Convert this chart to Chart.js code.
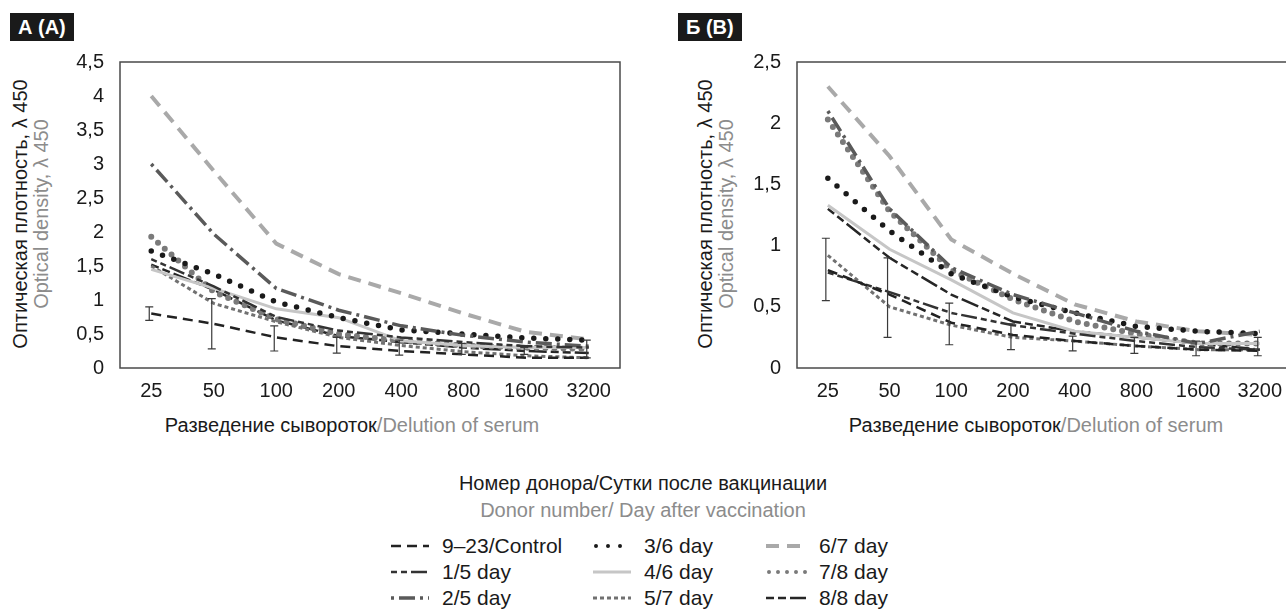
<!DOCTYPE html>
<html>
<head>
<meta charset="utf-8">
<script src="https://cdn.jsdelivr.net/npm/chart.js@4.4.1/dist/chart.umd.min.js"></script>
<style>
    body { margin: 0; width: 1286px; height: 610px; overflow: hidden; background: #fff; font-family: "Liberation Sans", Arial, sans-serif; position: relative; }
    .abs { position: absolute; }
    .tag { background: #1a1a1a; color: #fff; font-weight: bold; font-size: 20px; line-height: 28px; padding: 0 8px; }
    .ytitle { transform: translate(-50%, -50%) rotate(-90deg); white-space: nowrap; font-size: 20px; line-height: 21px; text-align: center; color: #1a1a1a; }
    .xtitle { transform: translate(-50%, -50%); white-space: nowrap; font-size: 20px; color: #1a1a1a; }
    .grey { color: #8c8c8c; }
    .legTitle { transform: translateX(-50%); white-space: nowrap; font-size: 20px; text-align: center; line-height: 27px; color: #1a1a1a; }
    .legItem { display: flex; align-items: center; font-size: 21px; color: #1a1a1a; white-space: nowrap; height: 26px; }
    .legItem svg { margin-right: 11px; }
</style>
</head>
<body>

<div class="abs tag" style="left:10px; top:13px;">А (A)</div>
<div class="abs tag" style="left:678px; top:13px;">Б (B)</div>

<div class="abs ytitle" style="left:31px; top:214px;">Оптическая плотность, λ 450<br><span class="grey">Optical density, λ 450</span></div>
<div class="abs ytitle" style="left:716px; top:214px;">Оптическая плотность, λ 450<br><span class="grey">Optical density, λ 450</span></div>

<div class="abs xtitle" style="left:352px; top:425px;">Разведение сывороток<span class="grey">/Delution of serum</span></div>
<div class="abs xtitle" style="left:1036px; top:425px;">Разведение сывороток<span class="grey">/Delution of serum</span></div>

<canvas id="chartA" class="abs" style="left:60px; top:34px;" width="580" height="386"></canvas>
<canvas id="chartB" class="abs" style="left:737px; top:34px;" width="556" height="386"></canvas>

<div class="abs legTitle" style="left:643px; top:470px;">Номер донора/Сутки после вакцинации<br><span class="grey">Donor number/ Day after vaccination</span></div>
<div id="legend" class="abs" style="left:0; top:0;"></div>

<script>
// dilution steps
const dilutions = ['25', '50', '100', '200', '400', '800', '1600', '3200'];

const seriesNames = ['9–23/Control', '1/5 day', '2/5 day', '3/6 day', '4/6 day', '5/7 day', '6/7 day', '7/8 day', '8/8 day'];

// panel A values
const controlA = [0.8, 0.65, 0.45, 0.32, 0.25, 0.2, 0.15, 0.15];
const d15A = [1.6, 1.2, 0.75, 0.55, 0.45, 0.38, 0.32, 0.3];
const d25A = [3.0, 1.97, 1.17, 0.85, 0.62, 0.48, 0.38, 0.32];
const d36A = [1.72, 1.38, 0.97, 0.74, 0.56, 0.5, 0.44, 0.41];
const d46A = [1.45, 1.17, 0.87, 0.74, 0.4, 0.33, 0.3, 0.3];
const d57A = [1.5, 0.95, 0.68, 0.45, 0.33, 0.24, 0.18, 0.15];
const d67A = [4.0, 2.9, 1.83, 1.38, 1.1, 0.8, 0.53, 0.42];
const d78A = [1.93, 1.12, 0.72, 0.5, 0.4, 0.33, 0.3, 0.28];
const d88A = [1.52, 1.15, 0.7, 0.47, 0.38, 0.3, 0.25, 0.22];
const errLowA = [0.7, 0.28, 0.25, 0.22, 0.19, 0.2, 0.2, 0.15];
const errHighA = [0.9, 1.02, 0.62, 0.45, 0.41, 0.36, 0.3, 0.41];

// panel B values
const controlB = [0.8, 0.6, 0.37, 0.27, 0.22, 0.18, 0.15, 0.14];
const d15B = [0.78, 0.62, 0.45, 0.35, 0.28, 0.22, 0.17, 0.15];
const d25B = [2.1, 1.3, 0.82, 0.6, 0.45, 0.3, 0.2, 0.3];
const d36B = [1.55, 1.12, 0.77, 0.58, 0.45, 0.34, 0.3, 0.28];
const d46B = [1.33, 0.97, 0.72, 0.45, 0.3, 0.25, 0.2, 0.2];
const d57B = [0.92, 0.5, 0.35, 0.25, 0.22, 0.18, 0.15, 0.15];
const d67B = [2.3, 1.73, 1.05, 0.77, 0.52, 0.38, 0.3, 0.27];
const d78B = [2.03, 1.28, 0.8, 0.56, 0.38, 0.28, 0.2, 0.2];
const d88B = [1.3, 0.9, 0.6, 0.38, 0.3, 0.25, 0.2, 0.15];
const errLowB = [0.55, 0.25, 0.19, 0.15, 0.14, 0.12, 0.1, 0.1];
const errHighB = [1.06, 0.9, 0.53, 0.36, 0.26, 0.25, 0.22, 0.25];

const yMaxA = 4.5;
const yMaxB = 2.5;

// line styles, same order as seriesNames
const styles = [
    { color: '#222222', width: 2.5, dash: [10, 6], cap: 'butt' },
    { color: '#333333', width: 2.5, dash: [6, 4, 6, 4, 16, 4], cap: 'butt' },
    { color: '#5a5a5a', width: 3.5, dash: [3, 5, 16, 5], cap: 'butt' },
    { color: '#1a1a1a', width: 5.5, dash: [0, 12], cap: 'round' },
    { color: '#c6c6c6', width: 3, dash: [], cap: 'butt' },
    { color: '#717171', width: 3, dash: [4, 3], cap: 'butt' },
    { color: '#a9a9a9', width: 4, dash: [13, 8], cap: 'butt' },
    { color: '#7a7a7a', width: 6, dash: [0, 9], cap: 'round' },
    { color: '#262626', width: 2.5, dash: [8, 4, 8, 4, 18, 4], cap: 'butt' }
];

function makeDatasets(values) {
    return values.map((vals, i) => ({
        label: seriesNames[i],
        data: vals,
        borderColor: styles[i].color,
        borderWidth: styles[i].width,
        borderDash: styles[i].dash,
        borderCapStyle: styles[i].cap,
        pointRadius: 0,
        tension: 0,
        fill: false
    }));
}

const frameAndErrors = {
    id: 'frameAndErrors',
    afterDatasetsDraw(chart, args, opts) {
        const ctx = chart.ctx;
        const x = chart.scales.x;
        const y = chart.scales.y;
        ctx.save();
        ctx.strokeStyle = '#3a3a3a';
        ctx.lineWidth = 1.2;
        ctx.setLineDash([]);
        opts.low.forEach((lo, i) => {
            const px = x.getPixelForValue(i) - 2;
            const y1 = y.getPixelForValue(lo);
            const y2 = y.getPixelForValue(opts.high[i]);
            ctx.beginPath();
            ctx.moveTo(px, y1); ctx.lineTo(px, y2);
            ctx.moveTo(px - 4, y1); ctx.lineTo(px + 4, y1);
            ctx.moveTo(px - 4, y2); ctx.lineTo(px + 4, y2);
            ctx.stroke();
        });
        const a = chart.chartArea;
        ctx.strokeStyle = '#4a4a4a';
        ctx.lineWidth = 1.5;
        ctx.strokeRect(a.left, a.top, a.right - a.left, a.bottom - a.top);
        ctx.restore();
    }
};

function makeChart(id, values, yMax, low, high, padRight) {
    return new Chart(document.getElementById(id), {
        type: 'line',
        data: { labels: dilutions, datasets: makeDatasets(values) },
        options: {
            responsive: false,
            animation: false,
            layout: { padding: { top: 15, right: padRight, left: 0, bottom: 0 } },
            plugins: {
                legend: { display: false },
                tooltip: { enabled: false },
                frameAndErrors: { low: low, high: high }
            },
            scales: {
                x: {
                    offset: true,
                    grid: { display: false, drawTicks: false },
                    border: { display: false },
                    ticks: { color: '#1a1a1a', padding: 11, font: { family: 'Liberation Sans', size: 20 }, maxRotation: 0, autoSkip: false },
                    afterFit(scale) { scale.height = 52; }
                },
                y: {
                    min: 0,
                    max: yMax,
                    grid: { display: false, drawTicks: false },
                    border: { display: false },
                    ticks: {
                        stepSize: 0.5,
                        color: '#1a1a1a',
                        padding: 16,
                        font: { family: 'Liberation Sans', size: 20 },
                        callback: v => String(v).replace('.', ',')
                    },
                    afterFit(scale) { scale.width = 60; }
                }
            }
        },
        plugins: [frameAndErrors]
    });
}

makeChart('chartA', [controlA, d15A, d25A, d36A, d46A, d57A, d67A, d78A, d88A], yMaxA, errLowA, errHighA, 20);
makeChart('chartB', [controlB, d15B, d25B, d36B, d46B, d57B, d67B, d78B, d88B], yMaxB, errLowB, errHighB, 0);

// legend in three columns
const legCols = [391, 593, 766];
const legRows = [546, 572, 598];
const legend = document.getElementById('legend');
seriesNames.forEach((name, i) => {
    const col = Math.floor(i / 3), row = i % 3;
    const s = styles[i];
    const el = document.createElement('div');
    el.className = 'abs legItem';
    el.style.left = legCols[col] + 'px';
    el.style.top = (legRows[row] - 13) + 'px';
    const w = col === 2 ? 42 : 40;
    el.innerHTML = '<svg width="' + w + '" height="10"><line x1="' + (s.cap === 'round' ? 3 : 0) + '" y1="5" x2="' + (w - 2) + '" y2="5" stroke="' + s.color +
        '" stroke-width="' + Math.min(s.width, 4) + '" stroke-dasharray="' + (s.dash.length ? s.dash.join(' ') : 'none') +
        '" stroke-linecap="' + s.cap + '"/></svg><span>' + name + '</span>';
    legend.appendChild(el);
});
</script>
</body>
</html>
